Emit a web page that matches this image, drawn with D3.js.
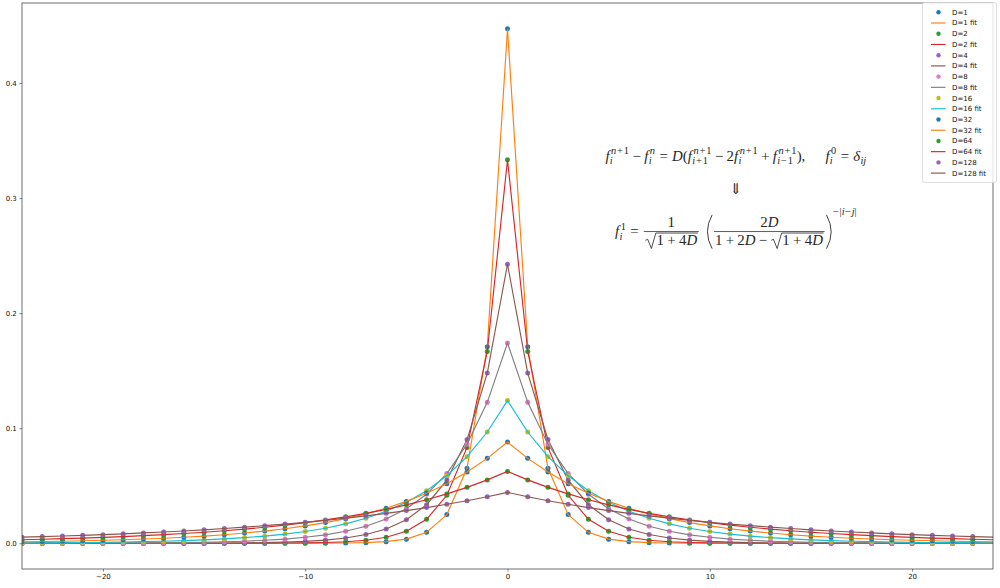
<!DOCTYPE html>
<html><head><meta charset="utf-8">
<script src="https://cdn.jsdelivr.net/npm/d3@7"></script>
<style>body{margin:0;background:#fff}</style>
</head><body><svg id="c" width="1000" height="588"></svg>
<script>
// ---------- data ----------
const xVals = [-24,-23,-22,-21,-20,-19,-18,-17,-16,-15,-14,-13,-12,-11,-10,-9,-8,-7,-6,-5,-4,-3,-2,-1,0,1,2,3,4,5,6,7,8,9,10,11,12,13,14,15,16,17,18,19,20,21,22,23,24];
const dotMin = -24, dotMax = 23;
const Ds = [1,2,4,8,16,32,64,128];
const fD1 = [0,0,0,0,0,0,0,0,0,0,0,0,0,0,0,0.0001,0.0002,0.0005,0.0014,0.0036,0.0095,0.0249,0.0652,0.1708,0.4472,0.1708,0.0652,0.0249,0.0095,0.0036,0.0014,0.0005,0.0002,0.0001,0,0,0,0,0,0,0,0,0,0,0,0,0,0,0];
const fD2 = [0,0,0,0,0,0,0,0,0,0,0,0,0.0001,0.0002,0.0003,0.0007,0.0013,0.0026,0.0052,0.0104,0.0208,0.0417,0.0833,0.1667,0.3333,0.1667,0.0833,0.0417,0.0208,0.0104,0.0052,0.0026,0.0013,0.0007,0.0003,0.0002,0.0001,0,0,0,0,0,0,0,0,0,0,0,0];
const fD4 = [0,0,0,0,0,0,0,0.0001,0.0001,0.0001,0.0002,0.0004,0.0006,0.0010,0.0017,0.0028,0.0046,0.0076,0.0124,0.0204,0.0335,0.0549,0.0901,0.1479,0.2425,0.1479,0.0901,0.0549,0.0335,0.0204,0.0124,0.0076,0.0046,0.0028,0.0017,0.0010,0.0006,0.0004,0.0002,0.0001,0.0001,0.0001,0,0,0,0,0,0,0];
const fD8 = [0,0.0001,0.0001,0.0001,0.0002,0.0002,0.0003,0.0004,0.0006,0.0009,0.0013,0.0018,0.0026,0.0036,0.0052,0.0073,0.0104,0.0148,0.0211,0.0300,0.0426,0.0606,0.0861,0.1225,0.1741,0.1225,0.0861,0.0606,0.0426,0.0300,0.0211,0.0148,0.0104,0.0073,0.0052,0.0036,0.0026,0.0018,0.0013,0.0009,0.0006,0.0004,0.0003,0.0002,0.0002,0.0001,0.0001,0.0001,0];
const fD16 = [0.0003,0.0004,0.0005,0.0007,0.0008,0.0011,0.0014,0.0018,0.0023,0.0029,0.0038,0.0049,0.0062,0.0080,0.0102,0.0131,0.0169,0.0217,0.0278,0.0357,0.0457,0.0587,0.0753,0.0967,0.1240,0.0967,0.0753,0.0587,0.0457,0.0357,0.0278,0.0217,0.0169,0.0131,0.0102,0.0080,0.0062,0.0049,0.0038,0.0029,0.0023,0.0018,0.0014,0.0011,0.0008,0.0007,0.0005,0.0004,0.0003];
const fD32 = [0.0013,0.0015,0.0018,0.0022,0.0026,0.0031,0.0037,0.0044,0.0052,0.0062,0.0074,0.0089,0.0106,0.0126,0.0151,0.0180,0.0214,0.0256,0.0305,0.0364,0.0435,0.0518,0.0619,0.0738,0.0880,0.0738,0.0619,0.0518,0.0435,0.0364,0.0305,0.0256,0.0214,0.0180,0.0151,0.0126,0.0106,0.0089,0.0074,0.0062,0.0052,0.0044,0.0037,0.0031,0.0026,0.0022,0.0018,0.0015,0.0013];
const fD64 = [0.0031,0.0035,0.0040,0.0045,0.0051,0.0058,0.0066,0.0075,0.0085,0.0096,0.0109,0.0123,0.0139,0.0158,0.0179,0.0203,0.0230,0.0260,0.0295,0.0334,0.0378,0.0429,0.0486,0.0551,0.0624,0.0551,0.0486,0.0429,0.0378,0.0334,0.0295,0.0260,0.0230,0.0203,0.0179,0.0158,0.0139,0.0123,0.0109,0.0096,0.0085,0.0075,0.0066,0.0058,0.0051,0.0045,0.0040,0.0035,0.0031];
const fD128 = [0.0053,0.0058,0.0063,0.0069,0.0075,0.0082,0.0090,0.0098,0.0107,0.0117,0.0128,0.0140,0.0153,0.0167,0.0182,0.0199,0.0218,0.0238,0.0260,0.0284,0.0310,0.0339,0.0370,0.0404,0.0442,0.0404,0.0370,0.0339,0.0310,0.0284,0.0260,0.0238,0.0218,0.0199,0.0182,0.0167,0.0153,0.0140,0.0128,0.0117,0.0107,0.0098,0.0090,0.0082,0.0075,0.0069,0.0063,0.0058,0.0053];
const seriesVals = [fD1,fD2,fD4,fD8,fD16,fD32,fD64,fD128];
const xTicks = [-20,-10,0,10,20];
const yTicks = [0.0,0.1,0.2,0.3,0.4];
const xDomain = [-24,24];
const yDomain = [-0.02236,0.46957];

// ---------- setup ----------
const tab10 = ['#1f77b4','#ff7f0e','#2ca02c','#d62728','#9467bd','#8c564b','#e377c2','#7f7f7f','#bcbd22','#17becf'];
const W=1000,H=588, L=22,R=993,T=3,B=569;
const svg = d3.select('#c');
const SANS = "'DejaVu Sans', sans-serif";
const x = d3.scaleLinear(xDomain,[L,R]);
const y = d3.scaleLinear(yDomain,[B,T]);

svg.append('defs').append('clipPath').attr('id','clip').append('rect')
  .attr('x',L).attr('y',T).attr('width',R-L).attr('height',B-T);

const plot = svg.append('g').attr('clip-path','url(#clip)');
const line = d3.line().x(d=>x(d[0])).y(d=>y(d[1]));
seriesVals.forEach((vals,k)=>{
  const pts = xVals.map((xv,i)=>[xv,vals[i]]);
  const dc = tab10[(2*k)%10], lc = tab10[(2*k+1)%10];
  plot.append('g').selectAll('circle').data(pts.filter(p=>p[0]>=dotMin&&p[0]<=dotMax)).join('circle')
    .attr('cx',d=>x(d[0])).attr('cy',d=>y(d[1])).attr('r',2.5).attr('fill',dc);
  plot.append('path').datum(pts).attr('d',line).attr('fill','none').attr('stroke',lc).attr('stroke-width',1.15);
});

// axes
const xa = svg.append('g').attr('transform',`translate(0,${B})`)
  .call(d3.axisBottom(x).tickValues(xTicks).tickSize(2.6).tickPadding(2.6).tickFormat(d3.format('d')));
const ya = svg.append('g').attr('transform',`translate(${L},0)`)
  .call(d3.axisLeft(y).tickValues(yTicks).tickSize(2.6).tickPadding(2.6).tickFormat(d3.format('.1f')));
[xa,ya].forEach(a=>{
  a.select('.domain').remove();
  a.selectAll('line').attr('stroke','#333').attr('stroke-width',0.6);
  a.selectAll('text').attr('font-family',SANS).attr('font-size',7).attr('fill','#111');
});
svg.append('rect').attr('x',L).attr('y',T).attr('width',R-L).attr('height',B-T)
  .attr('fill','none').attr('stroke','#333').attr('stroke-width',0.7);

// legend
const lg = svg.append('g');
lg.append('rect').attr('x',922.5).attr('y',2.5).attr('width',74).attr('height',180).attr('rx',2)
  .attr('fill','#fff').attr('fill-opacity',0.8).attr('stroke','#d0d0d0').attr('stroke-width',0.7);
const legItems = [];
Ds.forEach((D,k)=>{
  legItems.push({label:`D=${D}`, type:'dot', color:tab10[(2*k)%10]});
  legItems.push({label:`D=${D} fit`, type:'line', color:tab10[(2*k+1)%10]});
});
legItems.forEach((it,i)=>{
  const yy = 12.3 + i*10.72;
  if(it.type==='dot') lg.append('circle').attr('cx',938.5).attr('cy',yy).attr('r',2.2).attr('fill',it.color);
  else lg.append('line').attr('x1',931).attr('x2',945.5).attr('y1',yy).attr('y2',yy).attr('stroke',it.color).attr('stroke-width',1.15);
  lg.append('text').attr('x',952).attr('y',yy).attr('dy','0.35em').attr('font-family',SANS).attr('font-size',7).attr('fill','#111').text(it.label);
});

// ---------- formula (mini math layout) ----------
const MF = "'Liberation Serif', 'DejaVu Serif', serif";
const INK = '#262626';
const mg = svg.append('g').attr('font-family',MF).attr('fill',INK);
const meas = svg.append('text').attr('font-family',MF).attr('visibility','hidden');
function tw(s,size,it){ meas.attr('font-size',size).attr('font-style',it?'italic':'normal').text(s); return meas.node().getComputedTextLength(); }
function atom(s,size,it){ const w=tw(s,size,it); return {w, draw(g,x0,y0){ g.append('text').attr('x',x0).attr('y',y0).attr('font-size',size).attr('font-style',it?'italic':'normal').text(s);} }; }
function sp(w){ return {w, draw(){}}; }
function row(items){ return {w:d3.sum(items,d=>d.w), draw(g,x0,y0){ let cx=x0; items.forEach(it=>{it.draw(g,cx,y0); cx+=it.w;}); }}; }
function M(str,size,pad){
  const items=[]; let buf='', bufIt=null;
  const flush=()=>{ if(buf){ items.push(atom(buf,size,bufIt)); buf=''; } };
  for(const ch of str){
    if('+−='.includes(ch)){ flush(); const p=size*(ch==='='?pad*1.25:pad); items.push(sp(p), atom(ch,size,false), sp(p)); continue; }
    const it=/[a-zA-Zδ]/.test(ch);
    if(bufIt!==null && it!==bufIt) flush();
    bufIt=it; buf+=ch;
  }
  flush(); return row(items);
}
function scr(base,sup,sub,fs,supRaise,supShift){
  const sr = supRaise===undefined?0.42:supRaise, ss = supShift||0;
  const w = base.w + Math.max(sup?sup.w+ss:0, sub?sub.w:0) + fs*0.04;
  return {w, draw(g,x0,y0){ base.draw(g,x0,y0); const sx=x0+base.w+fs*0.02;
    if(sup) sup.draw(g,sx+ss,y0-fs*sr); if(sub) sub.draw(g,sx,y0+fs*0.24); }};
}
function frac(num,den,fs){
  const w=Math.max(num.w,den.w)+fs*0.25;
  return {w, draw(g,x0,y0){ const ax=y0-fs*0.3;
    num.draw(g,x0+(w-num.w)/2,ax-fs*0.32);
    den.draw(g,x0+(w-den.w)/2,ax+fs*0.92);
    g.append('line').attr('x1',x0+fs*0.06).attr('x2',x0+w-fs*0.06).attr('y1',ax).attr('y2',ax).attr('stroke',INK).attr('stroke-width',fs*0.05);
  }};
}
function sqrt(inner,fs){
  const rw=fs*0.8, w=rw+inner.w+fs*0.05;
  return {w, draw(g,x0,y0){
    const top=y0-fs*0.82, bot=y0+fs*0.22;
    g.append('path').attr('d',`M${x0+fs*0.05},${y0-fs*0.33} L${x0+fs*0.2},${y0-fs*0.4} L${x0+fs*0.45},${bot} L${x0+rw-fs*0.05},${top} L${x0+w},${top}`)
      .attr('fill','none').attr('stroke',INK).attr('stroke-width',fs*0.055).attr('stroke-linejoin','miter');
    inner.draw(g,x0+rw,y0);
  }};
}
function paren(inner,fs){
  const pw=fs*0.45, w=pw*2+inner.w;
  return {w, draw(g,x0,y0){
    const t=y0-fs*1.42, b=y0+fs*0.85, m=(t+b)/2;
    const P=(xa,xb)=>g.append('path').attr('d',`M${xa},${t} Q${xb},${m} ${xa},${b}`).attr('fill','none').attr('stroke',INK).attr('stroke-width',fs*0.06);
    P(x0+pw*0.85, x0-pw*0.55);
    inner.draw(g,x0+pw,y0);
    P(x0+w-pw*0.85, x0+w+pw*0.55);
  }};
}

function buildLine1(fs){
  const s=fs*0.7, pad=0.22, spad=0.08;
  const f=()=>atom('f',fs,true);
  const S=(t)=>M(t,s,spad);
  const bin=(c)=>row([sp(fs*pad),atom(c,fs,false),sp(fs*pad)]);
  const rel=(c)=>row([sp(fs*0.28),atom(c,fs,false),sp(fs*0.28)]);
  return row([
    scr(f(),S('n+1'),S('i'),fs,0.42,fs*0.08), bin('−'), scr(f(),S('n'),S('i'),fs,0.42,fs*0.08), rel('='),
    atom('D',fs,true), atom('(',fs,false), scr(f(),S('n+1'),S('i+1'),fs,0.42,fs*0.08), bin('−'),
    atom('2',fs,false), scr(f(),S('n+1'),S('i'),fs,0.42,fs*0.08), bin('+'), scr(f(),S('n+1'),S('i−1'),fs,0.42,fs*0.08),
    atom('),',fs,false), sp(fs*1.35), scr(f(),S('0'),S('i'),fs,0.42,fs*0.08), rel('='), scr(atom('δ',fs,true),null,S('ij'),fs)
  ]);
}
function buildLine2(fs){
  const s=fs*0.7;
  const rel=(c)=>row([sp(fs*0.28),atom(c,fs,false),sp(fs*0.28)]);
  const sq=()=>sqrt(M('1+4D',fs,0.22),fs);
  return row([
    scr(atom('f',fs,true),M('1',s,0.08),M('i',s,0.08),fs,0.42,fs*0.08), rel('='),
    frac(atom('1',fs,false), sq(), fs), sp(fs*0.45),
    scr(paren(frac(M('2D',fs,0.22), row([M('1+2D−',fs,0.22), sq()]), fs),fs), M('−|i−j|',s,0.06), null, fs, 1.38, 0)
  ]);
}
let fs=12;
const w0 = buildLine1(fs).w;
fs = fs*261/w0;
const l1 = buildLine1(fs), l2 = buildLine2(fs);
const cx = 736;
l1.draw(mg, cx-l1.w/2, 160.5);
mg.append('text').attr('x',cx).attr('y',194).attr('text-anchor','middle').attr('font-size',fs*1.0).text('⇓');
l2.draw(mg, cx-l2.w/2, 236);
meas.remove();
</script>
</body></html>
